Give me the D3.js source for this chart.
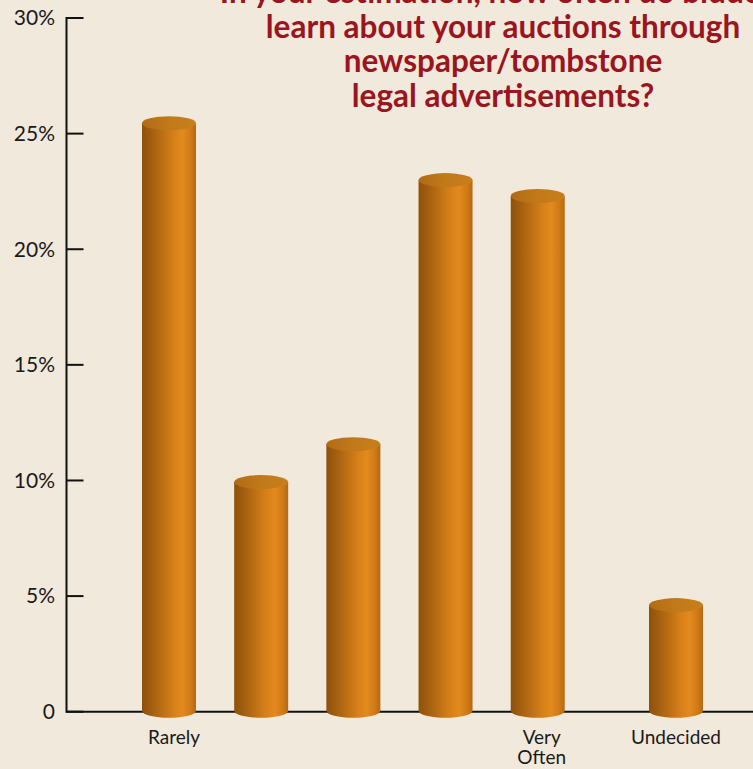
<!DOCTYPE html>
<html>
<head>
<meta charset="utf-8">
<script src="https://cdn.jsdelivr.net/npm/d3@7"></script>
<style>
  html, body { margin: 0; padding: 0; background: #f1e9db; }
  svg { display: block; }
</style>
</head>
<body>
<svg id="chart" width="753" height="769"></svg>
<script>
// ---- data ----
const categories = ["Rarely", "", "", "", "Very Often", "Undecided"];
const values = [25.45, 9.93, 11.57, 22.99, 22.3, 4.61];
const yTicks = [0, 5, 10, 15, 20, 25, 30];
const titleLines = [
  "In your estimation, how often do bidders",
  "learn about your auctions through",
  "newspaper/tombstone",
  "legal advertisements?"
];

// ---- layout ----
const W = 753, H = 769;
const axisX = 66.5, baseY = 711.7, topY = 18;
const svg = d3.select("#chart");
svg.append("rect").attr("width", W).attr("height", H).attr("fill", "#f1e9db");

const y = d3.scaleLinear().domain([0, 30]).range([baseY, topY]);
// slot index: last category ("Undecided") set half a slot further apart
const slot = (i) => i + (i === categories.length - 1 ? 0.5 : 0);
const x = d3.scaleLinear().domain([0, 5.5]).range([169, 676]);
const barW = 54, ry = 7;

// gradients
const defs = svg.append("defs");
const g1 = defs.append("linearGradient").attr("id", "body").attr("x1", 0).attr("x2", 1).attr("y1", 0).attr("y2", 0);
[[0, "#8e500b"], [0.12, "#9c5a0e"], [0.35, "#b86d14"], [0.6, "#d88119"], [0.75, "#e38a1e"], [0.9, "#cf7a17"], [1, "#b46912"]]
  .forEach(([o, c]) => g1.append("stop").attr("offset", o).attr("stop-color", c));
const g2 = defs.append("linearGradient").attr("id", "cap").attr("x1", 0).attr("x2", 1).attr("y1", 0).attr("y2", 0);
[[0, "#b26b14"], [0.5, "#c17919"], [1, "#c77f1e"]]
  .forEach(([o, c]) => g2.append("stop").attr("offset", o).attr("stop-color", c));

// axes lines (drawn first; bars cover baseline)
svg.append("line").attr("x1", axisX).attr("x2", W).attr("y1", baseY).attr("y2", baseY)
  .attr("stroke", "#111").attr("stroke-width", 2);
svg.append("line").attr("x1", axisX).attr("x2", axisX).attr("y1", y(30) - 1).attr("y2", baseY + 1)
  .attr("stroke", "#111").attr("stroke-width", 2);

const tickG = svg.append("g");
tickG.selectAll("line.tick").data(yTicks).join("line")
  .attr("x1", axisX).attr("x2", axisX + 17)
  .attr("y1", d => y(d)).attr("y2", d => y(d))
  .attr("stroke", "#111").attr("stroke-width", 2);
tickG.selectAll("text").data(yTicks).join("text")
  .attr("x", 55).attr("y", d => y(d)).attr("dy", "0.35em")
  .attr("text-anchor", "end")
  .attr("font-family", "Lato, 'Open Sans', sans-serif")
  .attr("font-size", 21).attr("fill", "#1a1a1a")
  .text(d => d === 0 ? "0" : d + "%");

// bars (cylinders)
const bars = svg.append("g").selectAll("g").data(values).join("g");
bars.append("path")
  .attr("d", (d, i) => {
    const cx = x(slot(i)), l = cx - barW / 2, r = cx + barW / 2, t = y(d);
    return `M${l},${t} L${l},${baseY - 1} A${barW / 2},${ry} 0 0 0 ${r},${baseY - 1} L${r},${t} Z`;
  })
  .attr("fill", "url(#body)");
bars.append("ellipse")
  .attr("cx", (d, i) => x(slot(i))).attr("cy", d => y(d))
  .attr("rx", barW / 2).attr("ry", ry)
  .attr("fill", "url(#cap)");

// x labels
const xl = svg.append("g").selectAll("text").data(categories).join("text")
  .attr("x", (d, i) => x(slot(i)) + (i === 0 ? 5 : i === 4 ? 4 : 0))
  .attr("y", 744)
  .attr("text-anchor", "middle")
  .attr("font-family", "Lato, 'Open Sans', sans-serif")
  .attr("font-size", 19).attr("fill", "#1a1a1a");
xl.each(function (d) {
  const parts = d.split(" ");
  const t = d3.select(this);
  parts.forEach((p, k) => {
    t.append("tspan").attr("x", t.attr("x")).attr("dy", k === 0 ? 0 : 20).text(p);
  });
});

// title
svg.append("g").selectAll("text").data(titleLines).join("text")
  .attr("x", 503).attr("y", (d, i) => 3 + i * 34.7)
  .attr("text-anchor", "middle")
  .attr("font-family", "Lato, sans-serif")
  .attr("font-weight", 700)
  .attr("font-size", 31.5)
  .attr("fill", "#9b1520")
  .text(d => d);
</script>
</body>
</html>
